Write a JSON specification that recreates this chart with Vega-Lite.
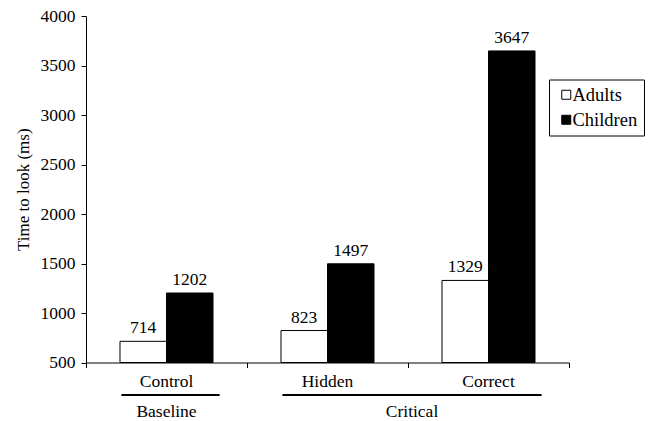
{
  "$schema": "https://vega.github.io/schema/vega-lite/v6.json",
  "padding": {"left": 14, "top": 7, "right": 5, "bottom": 0},
  "background": "white",
  "spacing": 0,
  "datasets": {
    "times": [
      {"condition": "Control", "age": "Adults", "ms": 714},
      {"condition": "Control", "age": "Children", "ms": 1202},
      {"condition": "Hidden", "age": "Adults", "ms": 823},
      {"condition": "Hidden", "age": "Children", "ms": 1497},
      {"condition": "Correct", "age": "Adults", "ms": 1329},
      {"condition": "Correct", "age": "Children", "ms": 3647}
    ],
    "conditions": [
      {"condition": "Control"},
      {"condition": "Hidden"},
      {"condition": "Correct"}
    ],
    "groups": [
      {"group": "Baseline", "from": "Control", "to": "Control"},
      {"group": "Critical", "from": "Hidden", "to": "Correct"}
    ]
  },
  "resolve": {"scale": {"x": "independent", "y": "independent"}},
  "vconcat": [
    {
      "width": 483,
      "height": 346.5,
      "data": {"name": "times"},
      "encoding": {
        "x": {
          "field": "condition",
          "type": "nominal",
          "scale": {"domain": ["Control", "Hidden", "Correct"], "paddingInner": 0, "paddingOuter": 0},
          "axis": {"labels": false, "title": null, "tickBand": "extent", "tickSize": 5, "domainColor": "black", "tickColor": "black"}
        },
        "xOffset": {
          "field": "age",
          "type": "nominal",
          "scale": {"domain": ["Adults", "Children"], "paddingInner": 0, "paddingOuter": 0.731}
        },
        "y": {
          "field": "ms",
          "type": "quantitative",
          "scale": {"domain": [500, 4000], "zero": false, "nice": false},
          "axis": {
            "values": [500, 1000, 1500, 2000, 2500, 3000, 3500, 4000],
            "format": "d",
            "grid": false,
            "title": "Time to look (ms)",
            "titleFont": "Liberation Serif",
            "titleFontSize": 17,
            "titleFontWeight": "normal",
            "titlePadding": 8,
            "labelFont": "Liberation Serif",
            "labelFontSize": 17.5,
            "labelPadding": 6,
            "tickSize": 5,
            "domainColor": "black",
            "tickColor": "black",
            "labelColor": "black",
            "titleColor": "black"
          }
        }
      },
      "layer": [
        {
          "mark": {"type": "bar", "stroke": "black", "strokeWidth": 1},
          "encoding": {
            "y2": {"datum": 500},
            "fill": {
              "field": "age",
              "type": "nominal",
              "scale": {"domain": ["Adults", "Children"], "range": ["white", "black"]},
              "legend": {
                "orient": "none",
                "legendX": 463,
                "legendY": 63.5,
                "title": null,
                "strokeColor": "black",
                "fillColor": "white",
                "padding": 6,
                "symbolType": "square",
                "symbolSize": 81,
                "symbolStrokeColor": "black",
                "symbolStrokeWidth": 1,
                "symbolOffset": 2,
                "labelOffset": -3,
                "labelFont": "Liberation Serif",
                "labelFontSize": 18.5,
                "labelColor": "black",
                "rowPadding": 6
              }
            }
          }
        },
        {
          "mark": {"type": "text", "baseline": "alphabetic", "dy": -8, "font": "Liberation Serif", "fontSize": 17.5, "color": "black"},
          "encoding": {"text": {"field": "ms", "type": "quantitative", "format": "d"}}
        }
      ]
    },
    {
      "width": 483,
      "height": 48,
      "layer": [
        {
          "data": {"name": "conditions"},
          "mark": {"type": "text", "baseline": "middle", "dy": 2, "font": "Liberation Serif", "fontSize": 17.5, "color": "black"},
          "encoding": {
            "x": {"field": "condition", "type": "nominal", "scale": {"domain": ["Control", "Hidden", "Correct"], "paddingInner": 0, "paddingOuter": 0}, "axis": null},
            "y": {"datum": "names", "type": "nominal", "scale": {"type": "point", "domain": ["names", "rule", "groups"], "padding": 0.655}, "axis": null},
            "text": {"field": "condition"}
          }
        },
        {
          "data": {"name": "groups"},
          "mark": {"type": "rule", "strokeWidth": 2, "color": "black"},
          "encoding": {
            "x": {"field": "from", "type": "nominal", "bandPosition": 0.22, "scale": {"domain": ["Control", "Hidden", "Correct"], "paddingInner": 0, "paddingOuter": 0}, "axis": null},
            "x2": {"field": "to", "bandPosition": 0.83},
            "y": {"datum": "rule", "type": "nominal", "scale": {"type": "point", "domain": ["names", "rule", "groups"], "padding": 0.655}, "axis": null}
          }
        },
        {
          "data": {"name": "groups"},
          "transform": [{"filter": "datum.group === 'Baseline'"}],
          "mark": {"type": "text", "baseline": "middle", "dy": 2.5, "font": "Liberation Serif", "fontSize": 17.5, "color": "black"},
          "encoding": {
            "x": {"field": "from", "type": "nominal", "bandPosition": 0.5, "scale": {"domain": ["Control", "Hidden", "Correct"], "paddingInner": 0, "paddingOuter": 0}, "axis": null},
            "y": {"datum": "groups", "type": "nominal", "scale": {"type": "point", "domain": ["names", "rule", "groups"], "padding": 0.655}, "axis": null},
            "text": {"field": "group"}
          }
        },
        {
          "data": {"name": "groups"},
          "transform": [{"filter": "datum.group === 'Critical'"}],
          "mark": {"type": "text", "baseline": "middle", "dy": 2.5, "dx": 4, "font": "Liberation Serif", "fontSize": 17.5, "color": "black"},
          "encoding": {
            "x": {"field": "from", "type": "nominal", "bandPosition": 1, "scale": {"domain": ["Control", "Hidden", "Correct"], "paddingInner": 0, "paddingOuter": 0}, "axis": null},
            "y": {"datum": "groups", "type": "nominal", "scale": {"type": "point", "domain": ["names", "rule", "groups"], "padding": 0.655}, "axis": null},
            "text": {"field": "group"}
          }
        }
      ]
    }
  ],
  "config": {
    "font": "Liberation Serif",
    "view": {"stroke": null}
  }
}
